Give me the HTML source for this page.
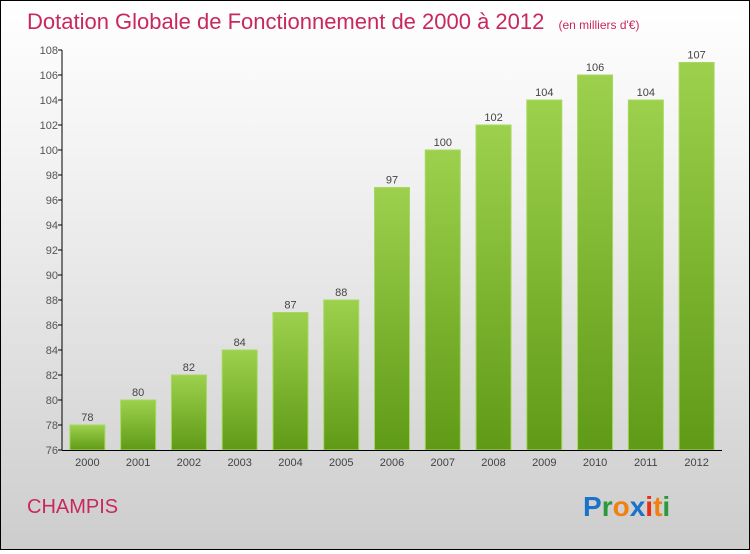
<!DOCTYPE html>
<html><head><meta charset="utf-8"><style>
body{margin:0}
#c{width:748px;height:548px;border:1px solid #000;background:linear-gradient(#fff,#f2f2f2 30%,#cdcdcd);position:relative;font-family:"Liberation Sans",sans-serif}
</style></head><body>
<div id="c">
<svg width="748" height="548" id="s">
<defs><linearGradient id="g" x1="0" y1="0" x2="0" y2="1"><stop offset="0" stop-color="#9dd14d"/><stop offset="1" stop-color="#5f9a16"/></linearGradient></defs>
<text x="26" y="28" font-size="22" fill="#c8285e">Dotation Globale de Fonctionnement de 2000 à 2012 <tspan font-size="12" dx="8">(en milliers d'€)</tspan></text>
<text x="26" y="512" font-size="20" fill="#c8285e">CHAMPIS</text>
<g font-size="28" font-weight="bold" font-family="Liberation Sans, sans-serif">
<text x="582" y="515"><tspan fill="#1a73c8">P</tspan><tspan fill="#2a9a3a">r</tspan><tspan fill="#f08010">o</tspan><tspan fill="#1a73c8">x</tspan><tspan fill="#e83010">i</tspan><tspan fill="#f08010">t</tspan><tspan fill="#2a9a3a">i</tspan></text></g>
<g id="plot"></g>
</svg></div>
<script>
const years=["2000","2001","2002","2003","2004","2005","2006","2007","2008","2009","2010","2011","2012"];
const values=[78,80,82,84,87,88,97,100,102,104,106,104,107];
const yTicks=[76,78,80,82,84,86,88,90,92,94,96,98,100,102,104,106,108];
const NS="http://www.w3.org/2000/svg";
const p=document.getElementById('plot');
const x0=61,x1=721,step=(x1-x0)/years.length;
const y=v=>449-(v-76)*12.5;
function mk(t,a,txt){const e=document.createElementNS(NS,t);for(const k in a)e.setAttribute(k,a[k]);if(txt!==undefined)e.textContent=txt;p.appendChild(e);return e;}
yTicks.forEach(v=>{
const l=mk('line',{x1:x0-4,x2:x0,y1:y(v),y2:y(v),stroke:'#000'});


const t=mk('text',{x:x0-4,y:y(v)+4,'text-anchor':'end','font-size':11,fill:'#555'},v);


});
years.forEach((yr,i)=>{
const cx=x0+step*(i+0.5),v=values[i];
const r=mk('rect',{x:cx-17.5,y:y(v),width:35,height:y(76)-y(v),fill:'url(#g)',stroke:'#a6d860','stroke-width':1});


const vl=mk('text',{x:cx,y:y(v)-4,'text-anchor':'middle','font-size':11,fill:'#444'},v);


const xl=mk('text',{x:cx,y:465,'text-anchor':'middle','font-size':11,fill:'#444'},yr);


});
const ya=mk('line',{x1:x0,x2:x0,y1:y(108),y2:y(76),stroke:'#000'});


const xa=mk('line',{x1:x0,x2:x1,y1:y(76)+0.5,y2:y(76)+0.5,stroke:'#000'});


</script>
</body></html>
